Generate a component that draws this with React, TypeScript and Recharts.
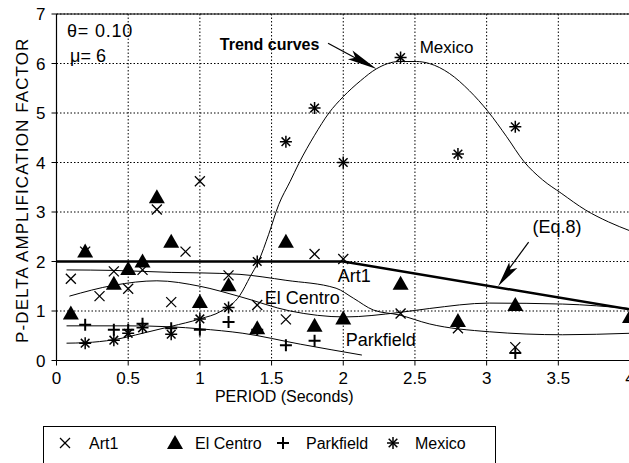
import React from 'react';
import {
  ComposedChart,
  Line,
  Scatter,
  XAxis,
  YAxis,
  CartesianGrid,
  ReferenceLine,
  ReferenceDot,
  Legend,
} from 'recharts';

// ---------- data ----------
const xTicks = [0, 0.5, 1, 1.5, 2, 2.5, 3, 3.5, 4];
const yTicks = [0, 1, 2, 3, 4, 5, 6, 7];

const art1Points = [
  { x: 0.1, y: 1.65 }, { x: 0.2, y: 2.2 }, { x: 0.3, y: 1.3 }, { x: 0.4, y: 1.8 },
  { x: 0.5, y: 1.45 }, { x: 0.6, y: 1.83 }, { x: 0.7, y: 3.05 }, { x: 0.8, y: 1.18 },
  { x: 0.9, y: 2.2 }, { x: 1.0, y: 3.62 }, { x: 1.2, y: 1.72 }, { x: 1.4, y: 1.12 },
  { x: 1.6, y: 0.83 }, { x: 1.8, y: 2.15 }, { x: 2.0, y: 2.05 }, { x: 2.4, y: 0.95 },
  { x: 2.8, y: 0.65 }, { x: 3.2, y: 0.27 },
];

const elCentroPoints = [
  { x: 0.1, y: 0.95 }, { x: 0.2, y: 2.2 }, { x: 0.4, y: 1.55 }, { x: 0.5, y: 1.85 },
  { x: 0.6, y: 2.0 }, { x: 0.7, y: 3.3 }, { x: 0.8, y: 2.4 }, { x: 1.0, y: 1.18 },
  { x: 1.2, y: 1.52 }, { x: 1.4, y: 0.65 }, { x: 1.6, y: 2.4 }, { x: 1.8, y: 0.7 },
  { x: 2.0, y: 0.85 }, { x: 2.4, y: 1.55 }, { x: 2.8, y: 0.8 }, { x: 3.2, y: 1.12 },
  { x: 4.0, y: 0.88 },
];

const parkfieldPoints = [
  { x: 0.2, y: 0.72 }, { x: 0.4, y: 0.62 }, { x: 0.5, y: 0.62 }, { x: 0.6, y: 0.74 },
  { x: 0.8, y: 0.65 }, { x: 1.0, y: 0.62 }, { x: 1.2, y: 0.78 }, { x: 1.4, y: 0.62 },
  { x: 1.6, y: 0.31 }, { x: 1.8, y: 0.4 }, { x: 3.2, y: 0.15 },
];

const mexicoPoints = [
  { x: 0.2, y: 0.35 }, { x: 0.4, y: 0.41 }, { x: 0.5, y: 0.55 }, { x: 0.6, y: 0.66 },
  { x: 0.8, y: 0.53 }, { x: 1.0, y: 0.84 }, { x: 1.2, y: 1.07 }, { x: 1.4, y: 2.0 },
  { x: 1.6, y: 4.42 }, { x: 1.8, y: 5.1 }, { x: 2.0, y: 4.0 }, { x: 2.4, y: 6.12 },
  { x: 2.8, y: 4.17 }, { x: 3.2, y: 4.72 },
];

const mexicoTrend = [
  { x: 0.07, y: 0.35 }, { x: 0.2, y: 0.36 }, { x: 0.4, y: 0.42 }, { x: 0.6, y: 0.55 },
  { x: 0.8, y: 0.69 }, { x: 1.0, y: 0.84 }, { x: 1.15, y: 1.0 }, { x: 1.28, y: 1.32 },
  { x: 1.35, y: 1.69 }, { x: 1.41, y: 2.01 }, { x: 1.48, y: 2.55 }, { x: 1.55, y: 3.15 },
  { x: 1.63, y: 3.62 }, { x: 1.69, y: 3.98 }, { x: 1.8, y: 4.55 }, { x: 1.9, y: 5.0 },
  { x: 2.0, y: 5.33 }, { x: 2.12, y: 5.65 }, { x: 2.23, y: 5.89 }, { x: 2.39, y: 6.04 },
  { x: 2.51, y: 6.04 }, { x: 2.6, y: 6.0 }, { x: 2.74, y: 5.8 }, { x: 2.88, y: 5.45 },
  { x: 3.01, y: 5.03 }, { x: 3.14, y: 4.52 }, { x: 3.26, y: 4.02 }, { x: 3.39, y: 3.65 },
  { x: 3.52, y: 3.38 }, { x: 3.69, y: 3.04 }, { x: 3.85, y: 2.8 }, { x: 4.0, y: 2.62 },
];

const art1Trend = [
  { x: 0.07, y: 1.83 }, { x: 0.4, y: 1.82 }, { x: 0.8, y: 1.78 }, { x: 1.0, y: 1.77 },
  { x: 1.28, y: 1.74 }, { x: 1.6, y: 1.62 }, { x: 1.95, y: 1.46 }, { x: 2.07, y: 1.26 },
  { x: 2.21, y: 1.02 }, { x: 2.39, y: 0.92 }, { x: 2.6, y: 0.74 }, { x: 3.02, y: 0.58 },
  { x: 3.53, y: 0.52 }, { x: 4.0, y: 0.55 },
];

const elCentroTrend = [
  { x: 0.09, y: 1.3 }, { x: 0.4, y: 1.52 }, { x: 0.7, y: 1.61 }, { x: 1.0, y: 1.5 },
  { x: 1.28, y: 1.29 }, { x: 1.63, y: 1.0 }, { x: 2.01, y: 0.88 }, { x: 2.39, y: 0.97 },
  { x: 2.6, y: 1.05 }, { x: 3.02, y: 1.16 }, { x: 3.53, y: 1.14 }, { x: 4.0, y: 1.05 },
];

const parkfieldTrend = [
  { x: 0.07, y: 0.7 }, { x: 0.5, y: 0.7 }, { x: 0.8, y: 0.68 }, { x: 1.0, y: 0.64 },
  { x: 1.3, y: 0.55 }, { x: 1.7, y: 0.33 }, { x: 2.13, y: 0.11 },
];

const eq8Line = [{ x: 0, y: 2.0 }, { x: 2.0, y: 2.0 }, { x: 4.0, y: 1.03 }];

const seriesNames = ['Art1', 'El Centro', 'Parkfield', 'Mexico'];

// ---------- marker shapes ----------
const FONT = '"Liberation Sans", Arial, sans-serif';

const crossPath = (cx: number, cy: number, s = 5) => (
  <g stroke="#000" strokeWidth={1.3} fill="none">
    <line x1={cx - s} y1={cy - s} x2={cx + s} y2={cy + s} />
    <line x1={cx - s} y1={cy + s} x2={cx + s} y2={cy - s} />
  </g>
);
const trianglePath = (cx: number, cy: number) => (
  <polygon points={`${cx},${cy - 8} ${cx - 8},${cy + 6} ${cx + 8},${cy + 6}`} fill="#000" />
);
const plusPath = (cx: number, cy: number, s = 6) => (
  <g stroke="#000" strokeWidth={2} fill="none">
    <line x1={cx - s} y1={cy} x2={cx + s} y2={cy} />
    <line x1={cx} y1={cy - s} x2={cx} y2={cy + s} />
  </g>
);
const starPath = (cx: number, cy: number, s = 6) => {
  const d = s * 0.72;
  return (
    <g stroke="#000" strokeWidth={1.5} fill="none">
      <line x1={cx - s} y1={cy} x2={cx + s} y2={cy} />
      <line x1={cx} y1={cy - s} x2={cx} y2={cy + s} />
      <line x1={cx - d} y1={cy - d} x2={cx + d} y2={cy + d} />
      <line x1={cx - d} y1={cy + d} x2={cx + d} y2={cy - d} />
    </g>
  );
};

const CrossShape = (p: any) => crossPath(p.cx, p.cy);
const TriangleShape = (p: any) => trianglePath(p.cx, p.cy);
const PlusShape = (p: any) => plusPath(p.cx, p.cy);
const StarShape = (p: any) => starPath(p.cx, p.cy);

const textShape = (text: string, size: number, weight: string = 'normal', spacing = 0) => (p: any) => (
  <text
    x={p.cx}
    y={p.cy}
    fontSize={size}
    fontWeight={weight}
    fontFamily={FONT}
    letterSpacing={spacing}
    fill="#000"
  >
    {text}
  </text>
);

const arrowHead = (angle: number, len: number, half: number) => (p: any) => (
  <polygon
    points={`0,0 ${-len},${-half} ${-len * 0.8},0 ${-len},${half}`}
    transform={`translate(${p.cx},${p.cy}) rotate(${angle})`}
    fill="#000"
  />
);

const LegendBox = () => {
  const markers = [crossPath, trianglePath, plusPath, starPath];
  const mx = [22, 132, 240, 350];
  const tx = [46, 152, 263, 372];
  return (
    <svg width={453} height={40} style={{ display: 'block' }}>
      <rect x={0.5} y={0.5} width={452} height={60} fill="#fff" stroke="#000" strokeWidth={1} />
      {seriesNames.map((n, i) => (
        <g key={n}>
          {markers[i](mx[i], 17)}
          <text x={tx[i]} y={23} fontSize={16} fontFamily={FONT} fill="#000">
            {n}
          </text>
        </g>
      ))}
    </svg>
  );
};

export default function App() {
  return (
    <div
      style={{
        position: 'absolute',
        left: 0,
        top: 0,
        width: 629,
        height: 463,
        overflow: 'hidden',
        background: '#fff',
      }}
    >
      <ComposedChart
        width={640}
        height={463}
        margin={{ top: 14, right: 10, bottom: 2.5, left: 0.5 }}
        style={{ fontFamily: FONT }}
      >
        <CartesianGrid stroke="#000" strokeDasharray="1.5 2" strokeWidth={1} />
        <XAxis
          type="number"
          dataKey="x"
          domain={[0, 4]}
          ticks={xTicks}
          interval={0}
          height={100}
          allowDataOverflow
          axisLine={{ stroke: '#000', strokeWidth: 1.2 }}
          tickLine={{ stroke: '#000' }}
          tickSize={5}
          tickMargin={6}
          tick={{ fill: '#000', fontSize: 17, fontFamily: FONT }}
          label={{
            value: 'PERIOD (Seconds)',
            position: 'insideTop',
            offset: 30,
            dx: -59,
            fill: '#000',
            fontSize: 16,
            fontFamily: '"Liberation Sans Narrow", "Liberation Sans", sans-serif',
          }}
        />
        <YAxis
          type="number"
          dataKey="y"
          domain={[0, 7]}
          ticks={yTicks}
          interval={0}
          width={56}
          allowDataOverflow
          axisLine={{ stroke: '#000', strokeWidth: 1.2 }}
          tickLine={{ stroke: '#000' }}
          tickSize={5}
          tickMargin={6}
          tick={{ fill: '#000', fontSize: 17, fontFamily: FONT }}
          label={{
            value: 'P-DELTA AMPLIFICATION FACTOR',
            angle: -90,
            position: 'center',
            dx: -7,
            dy: 3,
            fill: '#000',
            fontSize: 17,
            letterSpacing: 1.1,
            fontFamily: FONT,
          }}
        />
        <ReferenceLine y={7} stroke="#000" strokeWidth={1.2} />

        <Line data={eq8Line} dataKey="y" type="linear" stroke="#000" strokeWidth={2.5} dot={false} isAnimationActive={false} legendType="none" />
        <Line data={art1Trend} dataKey="y" type="monotone" stroke="#000" strokeWidth={1} dot={false} isAnimationActive={false} legendType="none" />
        <Line data={elCentroTrend} dataKey="y" type="monotone" stroke="#000" strokeWidth={1} dot={false} isAnimationActive={false} legendType="none" />
        <Line data={parkfieldTrend} dataKey="y" type="monotone" stroke="#000" strokeWidth={1} dot={false} isAnimationActive={false} legendType="none" />
        <Line data={mexicoTrend} dataKey="y" type="monotone" stroke="#000" strokeWidth={1} dot={false} isAnimationActive={false} legendType="none" />

        <Scatter name={seriesNames[0]} data={art1Points} dataKey="y" shape={CrossShape} isAnimationActive={false} />
        <Scatter name={seriesNames[1]} data={elCentroPoints} dataKey="y" shape={TriangleShape} isAnimationActive={false} />
        <Scatter name={seriesNames[2]} data={parkfieldPoints} dataKey="y" shape={PlusShape} isAnimationActive={false} />
        <Scatter name={seriesNames[3]} data={mexicoPoints} dataKey="y" shape={StarShape} isAnimationActive={false} />

        {/* annotation arrows */}
        <ReferenceLine segment={[{ x: 1.894, y: 6.41 }, { x: 2.15, y: 6.01 }]} stroke="#000" strokeWidth={1.2} ifOverflow="visible" />
        <ReferenceDot x={2.233} y={5.89} r={0} ifOverflow="visible" shape={arrowHead(28, 30, 5)} />
        <ReferenceLine segment={[{ x: 3.293, y: 2.39 }, { x: 3.13, y: 1.75 }]} stroke="#000" strokeWidth={1.2} ifOverflow="visible" />
        <ReferenceDot x={3.08} y={1.5} r={0} ifOverflow="visible" shape={arrowHead(125.8, 26, 5)} />

        {/* annotation texts */}
        <ReferenceDot x={0.073} y={6.54} r={0} ifOverflow="visible" shape={textShape('θ= 0.10', 18, 'normal', 0.8)} />
        <ReferenceDot x={0.095} y={6.03} r={0} ifOverflow="visible" shape={textShape('μ= 6', 18)} />
        <ReferenceDot x={1.139} y={6.27} r={0} ifOverflow="visible" shape={textShape('Trend curves', 16, 'bold')} />
        <ReferenceDot x={2.533} y={6.21} r={0} ifOverflow="visible" shape={textShape('Mexico', 17)} />
        <ReferenceDot x={3.32} y={2.58} r={0} ifOverflow="visible" shape={textShape('(Eq.8)', 18)} />
        <ReferenceDot x={1.962} y={1.586} r={0} ifOverflow="visible" shape={textShape('Art1', 18)} />
        <ReferenceDot x={1.453} y={1.14} r={0} ifOverflow="visible" shape={textShape('El Centro', 18)} />
        <ReferenceDot x={2.017} y={0.283} r={0} ifOverflow="visible" shape={textShape('Parkfield', 18)} />

        <Legend
          layout="horizontal"
          verticalAlign="middle"
          align="center"
          wrapperStyle={{ left: 43, top: 426, width: 453, height: 40 }}
          content={() => <LegendBox />}
        />
      </ComposedChart>
    </div>
  );
}
